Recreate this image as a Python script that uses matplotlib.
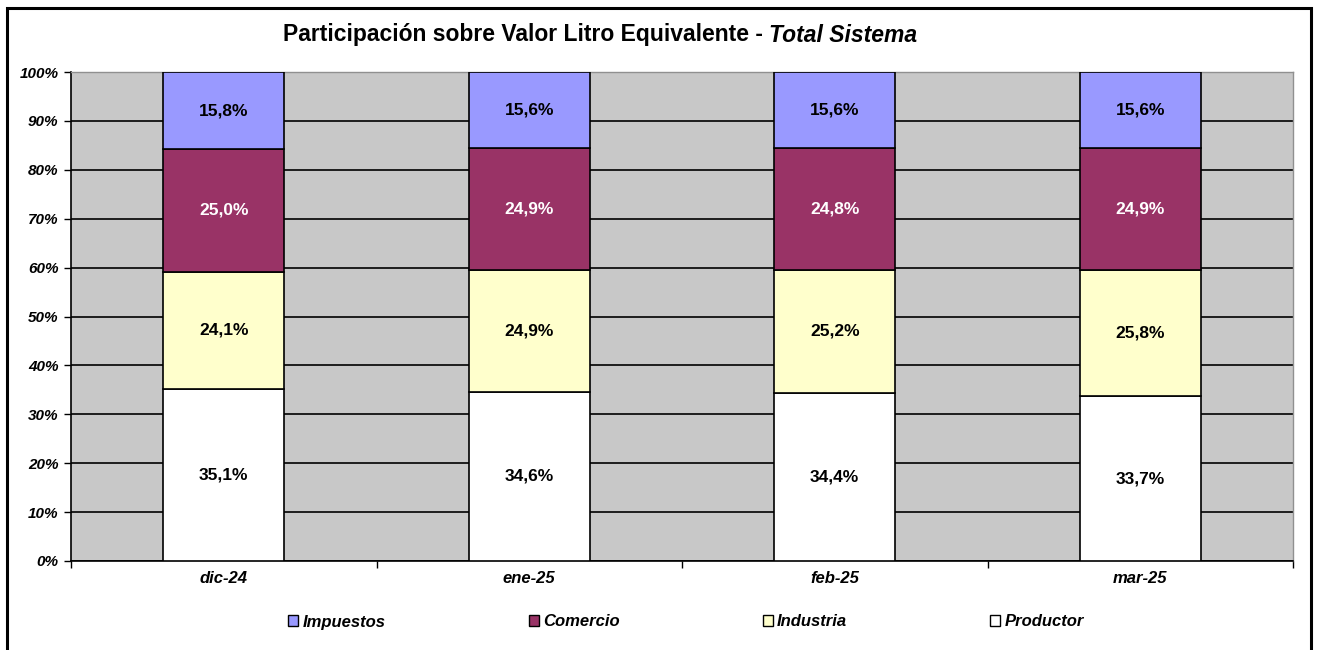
import matplotlib
matplotlib.use("Agg")
import matplotlib.pyplot as plt
from matplotlib.patches import Rectangle
import numpy as np

plt.rcParams['font.family'] = ['Liberation Sans', 'DejaVu Sans']

categories = ["dic-24", "ene-25", "feb-25", "mar-25"]
productor = [35.1, 34.6, 34.4, 33.7]
industria = [24.1, 24.9, 25.2, 25.8]
comercio = [25.0, 24.9, 24.8, 24.9]
impuestos = [15.8, 15.6, 15.6, 15.6]
series_names = ["Productor", "Industria", "Comercio", "Impuestos"]
series_values = [productor, industria, comercio, impuestos]
series_colors = ["#FFFFFF", "#FFFFCC", "#993366", "#9999FF"]
label_colors = ["black", "black", "white", "black"]
y_ticks = [0, 10, 20, 30, 40, 50, 60, 70, 80, 90, 100]

W, H = 1318, 650
fig = plt.figure(figsize=(W / 100, H / 100), dpi=100)
ax = fig.add_axes([71 / W, 1 - 561 / H, (1293 - 71) / W, (561 - 72) / H])
ax.set_facecolor("#C8C8C8")

x = np.arange(len(categories))
bottom = np.zeros(len(categories))
for name, vals, col, lc in zip(series_names, series_values, series_colors, label_colors):
    vals = np.array(vals)
    ax.bar(x, vals, bottom=bottom, width=0.397, color=col,
           edgecolor="black", linewidth=1.2, zorder=3)
    for xi, b, v in zip(x, bottom, vals):
        ax.text(xi, b + v / 2, f"{v:.1f}%".replace(".", ","), ha="center", va="center",
                fontsize=12.5, fontweight="bold", color=lc, zorder=4)
    bottom += vals

ax.set_xlim(-0.5, len(categories) - 0.5)
ax.set_ylim(0, 100)
ax.set_yticks(y_ticks)
ax.set_yticklabels([f"{t}%" for t in y_ticks], fontsize=11, fontweight="bold", style="italic")
ax.yaxis.grid(True, color="black", linewidth=1.2, zorder=1)
ax.set_axisbelow(True)

ax.set_xticks(np.arange(-0.5, len(categories)), minor=False)
ax.set_xticklabels([])
ax.set_xticks(x, minor=True)
ax.set_xticklabels(categories, minor=True, fontsize=12, fontweight="bold", style="italic")
ax.tick_params(axis="x", which="minor", length=0, pad=7)
ax.tick_params(axis="x", which="major", length=5, width=1, direction="out", color="black")
ax.tick_params(axis="y", length=5, width=1, direction="out", pad=4)

for s in ["top", "right"]:
    ax.spines[s].set_color("#909090")
    ax.spines[s].set_linewidth(1)
for s in ["left", "bottom"]:
    ax.spines[s].set_color("black")
    ax.spines[s].set_linewidth(1.2)

# title in two pieces (regular bold + bold italic)
ty = 1 - 35 / H
t1 = fig.text(283 / W, ty, "Participación sobre Valor Litro Equivalente - ", ha="left", va="center",
              fontsize=16.5, fontweight="bold")
fig.canvas.draw()
w1 = t1.get_window_extent().width
fig.text((283 + w1) / W, ty, "Total Sistema", ha="left", va="center",
         fontsize=16.5, fontweight="bold", style="italic")

# legend
handles = [Rectangle((0, 0), 1, 1, facecolor=c, edgecolor="black", linewidth=1)
           for c in series_colors[::-1]]
fig.legend(handles, series_names[::-1], loc="center", bbox_to_anchor=(686 / W, 1 - 622 / H),
           ncol=4, frameon=False, handlelength=0.6, handleheight=0.6, handletextpad=0.25,
           columnspacing=8.6, prop={"weight": "bold", "style": "italic", "size": 12})

# outer border
fig.patches.append(Rectangle((7 / W, -0.05), (1311 - 7) / W, (650 - 8) / H + 0.05,
                             transform=fig.transFigure, fill=False, edgecolor="black",
                             linewidth=2.2))

fig.savefig("out.png", dpi=100)
